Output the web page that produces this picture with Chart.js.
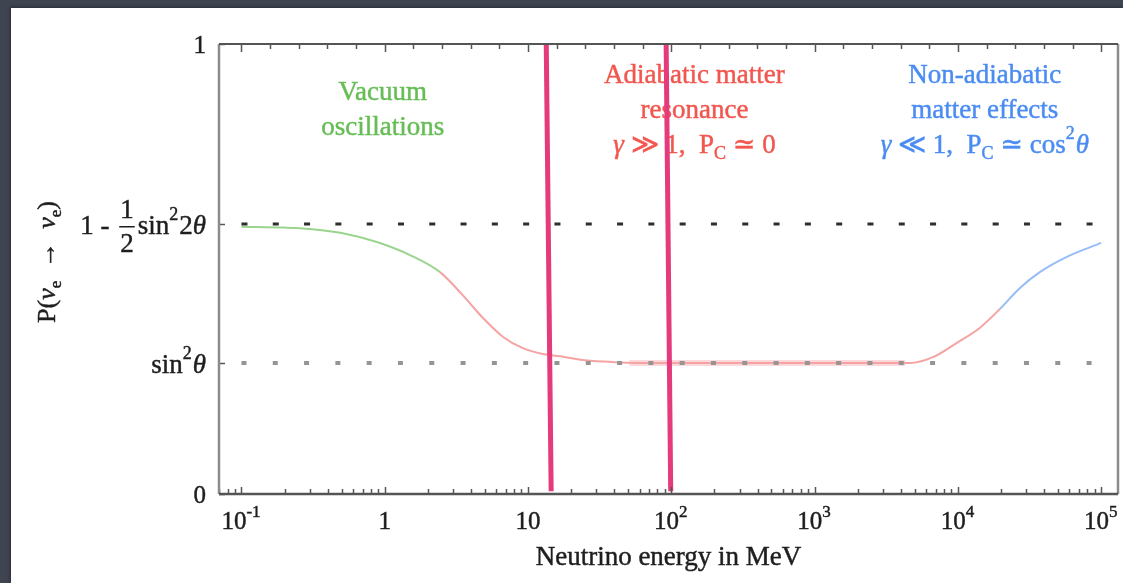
<!DOCTYPE html>
<html>
<head>
<meta charset="utf-8">
<title>Neutrino survival probability</title>
<script src="https://cdn.jsdelivr.net/npm/chart.js@4.4.1/dist/chart.umd.min.js"></script>
<style>
  html, body { margin: 0; padding: 0; }
  body { width: 1123px; height: 583px; position: relative; overflow: hidden;
         background: #3f4451; }
  #panel { position: absolute; left: 11px; top: 8px; right: 0; bottom: 0; background: #fff;
           box-shadow: -1px -1px 3px rgba(0,0,0,0.35); }
  #chart { position: absolute; left: 0; top: 0; }
</style>
</head>
<body>
<div id="panel"></div>
<canvas id="chart" width="1123" height="583"></canvas>
<script>
// survival probability P(nu_e -> nu_e) against neutrino energy (MeV)
const energyMeV = [0.1, 0.2, 0.3, 0.5, 0.88, 1.5, 2.43, 3.5, 4.85, 6.7, 9.2, 12.7, 16.7, 25, 40, 100,
                   1000, 4620, 6690, 9840, 14200, 19600, 27100, 37300, 57600, 100000];
const survivalProb = [0.594, 0.592, 0.589, 0.58, 0.56, 0.531, 0.493, 0.442, 0.391, 0.349, 0.324, 0.311, 0.306, 0.297, 0.293, 0.291,
                      0.291, 0.291, 0.304, 0.336, 0.369, 0.411, 0.458, 0.493, 0.527, 0.558];

// regime boundaries along the curve
const vacuumUntil = 2.43;
const nonAdiabaticFrom = 19600;

// flat MSW plateau highlight
const plateauEnergy = [51, 4300];

// reference levels: 1 - 1/2 sin^2 2theta and sin^2 theta
const levelUpper = 0.6;
const levelLower = 0.291;
const levelSpan = [0.1, 100000];

// the two magenta markers (energy at top and at bottom of the frame)
const markerTop = [13.4, 92];
const markerBottom = [14.5, 99];

// axes
const xRange = [0.0697, 131000];
const xDecades = [0.1, 1, 10, 100, 1000, 10000, 100000];
const xDecadeLabels = [['10', '-1'], ['1', ''], ['10', ''], ['10', '2'], ['10', '3'], ['10', '4'], ['10', '5']];
const yTicks = [0, levelLower, levelUpper, 1];

const SERIF = '"Liberation Serif", "DejaVu Serif", serif';
const PINK = '#e53a7b';
const GREEN = '#9ad58e';
const RED = '#f5a3a3';
const BLUE = '#97bcf6';

function partFont(p, size) {
  const s = (p.sup || p.sub) ? Math.round(size * 0.66) : size;
  return (p.italic ? 'italic ' : '') + s + 'px ' + SERIF;
}

function partWidth(ctx, p, size) {
  if (p.frac) {
    ctx.font = size + 'px ' + SERIF;
    return Math.max(ctx.measureText(p.frac[0]).width, ctx.measureText(p.frac[1]).width) + 8;
  }
  ctx.font = partFont(p, size);
  return ctx.measureText(p.t).width + (p.sup ? 1 : 0);
}

// draw a run of text pieces (sup/sub/italic/fraction); y is the visual middle
function drawRich(ctx, parts, x, y, size, align) {
  const widths = parts.map(p => partWidth(ctx, p, size));
  const total = widths.reduce((a, b) => a + b, 0);
  let cx = align === 'right' ? x - total : align === 'center' ? x - total / 2 : x;
  const base = y + size * 0.36;
  ctx.textBaseline = 'alphabetic';
  ctx.strokeStyle = ctx.fillStyle;
  ctx.lineWidth = 0.45;
  const put = (t, px, py) => { ctx.fillText(t, px, py); ctx.strokeText(t, px, py); };
  parts.forEach((p, i) => {
    if (p.frac) {
      ctx.font = size + 'px ' + SERIF;
      ctx.textAlign = 'center';
      const mid = cx + widths[i] / 2;
      put(p.frac[0], mid, y - 6);
      put(p.frac[1], mid, y + 28);
      ctx.fillRect(cx + 3, y + 2, widths[i] - 6, 1.5);
    } else {
      ctx.font = partFont(p, size);
      ctx.textAlign = 'left';
      let dy = 0;
      if (p.sup) dy = -size * 0.5;
      if (p.sub) dy = size * 0.22;
      put(p.t, cx, base + dy);
    }
    cx += widths[i];
  });
}

const yTickParts = [
  [{ t: '0' }],
  [{ t: 'sin' }, { t: '2', sup: true }, { t: 'θ', italic: true }],
  [{ t: '1 - ' }, { frac: ['1', '2'] }, { t: 'sin' }, { t: '2', sup: true }, { t: '2' }, { t: 'θ', italic: true }],
  [{ t: '1' }]
];

const notes = [
  { at: [0.97, 90], color: '#66bd55', lines: [
    [{ t: 'Vacuum' }],
    [{ t: 'oscillations' }]
  ] },
  { at: [145, 73], color: '#f1574f', lines: [
    [{ t: 'Adiabatic matter' }],
    [{ t: 'resonance' }],
    [{ t: 'γ', italic: true }, { t: ' ≫ 1,  P' }, { t: 'C', sub: true }, { t: ' ≃ 0' }]
  ] },
  { at: [15400, 73], color: '#4a8cf2', lines: [
    [{ t: 'Non-adiabatic' }],
    [{ t: 'matter effects' }],
    [{ t: 'γ', italic: true }, { t: ' ≪ 1,  P' }, { t: 'C', sub: true }, { t: ' ≃ cos' }, { t: '2', sup: true }, { t: 'θ', italic: true }]
  ] }
];

const labelsPlugin = {
  id: 'labels',
  beforeDatasetsDraw(chart) {
    const { ctx, chartArea: a, scales: { x, y } } = chart;
    ctx.save();

    // region annotations
    notes.forEach(n => {
      ctx.fillStyle = n.color;
      const px = x.getPixelForValue(n.at[0]);
      n.lines.forEach((line, i) => drawRich(ctx, line, px, n.at[1] + i * 35, 27, 'center'));
    });

    // y tick labels
    ctx.fillStyle = '#1e1e1e';
    yTicks.forEach((v, i) => {
      const size = (v === 0 || v === 1) ? 25 : 27;
      drawRich(ctx, yTickParts[i], 206, y.getPixelForValue(v), size, 'right');
    });

    // x tick labels
    xDecades.forEach((v, i) => {
      const [base, exp] = xDecadeLabels[i];
      const parts = exp ? [{ t: base }, { t: exp, sup: true }] : [{ t: base }];
      drawRich(ctx, parts, x.getPixelForValue(v), 520, 25, 'center');
    });

    // axis titles
    drawRich(ctx, [{ t: 'Neutrino energy in MeV' }], (a.left + a.right) / 2, 555, 27, 'center');
    ctx.translate(46, 262);
    ctx.rotate(-Math.PI / 2);
    drawRich(ctx, [{ t: 'P(' }, { t: 'ν', italic: true }, { t: 'e', sub: true }, { t: '  →  ' },
                   { t: 'ν', italic: true }, { t: 'e', sub: true }, { t: ')' }], 0, 0, 26, 'center');
    ctx.restore();
  }
};

const framePlugin = {
  id: 'frame',
  afterDatasetsDraw(chart) {
    const { ctx, chartArea: a, scales: { x, y } } = chart;
    ctx.save();
    ctx.lineCap = 'butt';

    // bottom: log minor ticks pointing in
    ctx.strokeStyle = '#555';
    ctx.lineWidth = 1.5;
    const decadesLow = [0.01].concat(xDecades);
    decadesLow.forEach(d => {
      for (let k = 1; k <= 9; k++) {
        const v = d * k;
        if (v < xRange[0] || v > xRange[1]) continue;
        const px = Math.round(x.getPixelForValue(v)) + 0.5;
        const len = k === 1 ? 7 : 5;
        ctx.beginPath(); ctx.moveTo(px, a.bottom); ctx.lineTo(px, a.bottom - len); ctx.stroke();
      }
    });

    // top: five ticks per decade
    decadesLow.forEach(d => {
      for (let j = 0; j < 5; j++) {
        const v = d * Math.pow(10, j / 5);
        if (v < xRange[0] || v > xRange[1]) continue;
        const px = Math.round(x.getPixelForValue(v)) + 0.5;
        const len = j === 0 ? 8 : 5;
        ctx.beginPath(); ctx.moveTo(px, a.top); ctx.lineTo(px, a.top + len); ctx.stroke();
      }
    });

    // left ticks at the labelled levels
    yTicks.forEach(v => {
      const py = Math.round(y.getPixelForValue(v)) + 0.5;
      ctx.beginPath(); ctx.moveTo(a.left, py); ctx.lineTo(a.left + 6, py); ctx.stroke();
    });

    // frame
    ctx.lineWidth = 2.5;
    ctx.strokeStyle = '#8c8c8c';
    ctx.beginPath(); ctx.moveTo(a.left, a.top); ctx.lineTo(a.left, a.bottom); ctx.stroke();
    ctx.beginPath(); ctx.moveTo(a.right, a.top); ctx.lineTo(a.right, a.bottom); ctx.stroke();
    ctx.strokeStyle = '#555';
    ctx.lineWidth = 2;
    ctx.beginPath(); ctx.moveTo(a.left, a.top); ctx.lineTo(a.right, a.top); ctx.stroke();
    ctx.lineWidth = 2.5;
    ctx.beginPath(); ctx.moveTo(a.left, a.bottom); ctx.lineTo(a.right, a.bottom); ctx.stroke();
    ctx.restore();
  }
};

const curve = energyMeV.map((e, i) => ({ x: e, y: survivalProb[i] }));
const level = v => levelSpan.map(e => ({ x: e, y: v }));
const marker = i => [{ x: markerTop[i], y: 1 }, { x: markerBottom[i], y: 0.006 }];

new Chart(document.getElementById('chart'), {
  type: 'scatter',
  data: {
    datasets: [
      { label: 'marker 1', data: marker(0), showLine: true, borderColor: PINK, borderWidth: 5,
        pointRadius: 0, order: 0 },
      { label: 'marker 2', data: marker(1), showLine: true, borderColor: PINK, borderWidth: 5,
        pointRadius: 0, order: 0 },
      { label: 'upper level', data: level(levelUpper), showLine: true, borderColor: '#2e2e2e',
        borderWidth: 3, borderDash: [6, 25.3], pointRadius: 0, order: 1 },
      { label: 'lower level', data: level(levelLower), showLine: true, borderColor: '#959595',
        borderWidth: 4, borderDash: [5, 26.3], pointRadius: 0, order: 1 },
      { label: 'P(ee)', data: curve, showLine: true, borderWidth: 2, pointRadius: 0,
        cubicInterpolationMode: 'monotone', order: 2,
        segment: {
          borderColor: c => c.p0.parsed.x < vacuumUntil ? GREEN
            : c.p0.parsed.x < nonAdiabaticFrom ? RED : BLUE
        } },
      { label: 'plateau', data: plateauEnergy.map(e => ({ x: e, y: levelLower })), showLine: true,
        borderColor: 'rgba(249, 190, 195, 0.6)', borderWidth: 6, pointRadius: 0, order: 3 }
    ]
  },
  options: {
    responsive: false,
    animation: false,
    events: [],
    layout: { padding: { left: 219, top: 44, right: 5, bottom: 89 } },
    plugins: { legend: { display: false }, tooltip: { enabled: false } },
    scales: {
      x: { type: 'logarithmic', min: xRange[0], max: xRange[1], display: false },
      y: { type: 'linear', min: 0, max: 1, display: false }
    }
  },
  plugins: [labelsPlugin, framePlugin]
});
</script>
</body>
</html>
